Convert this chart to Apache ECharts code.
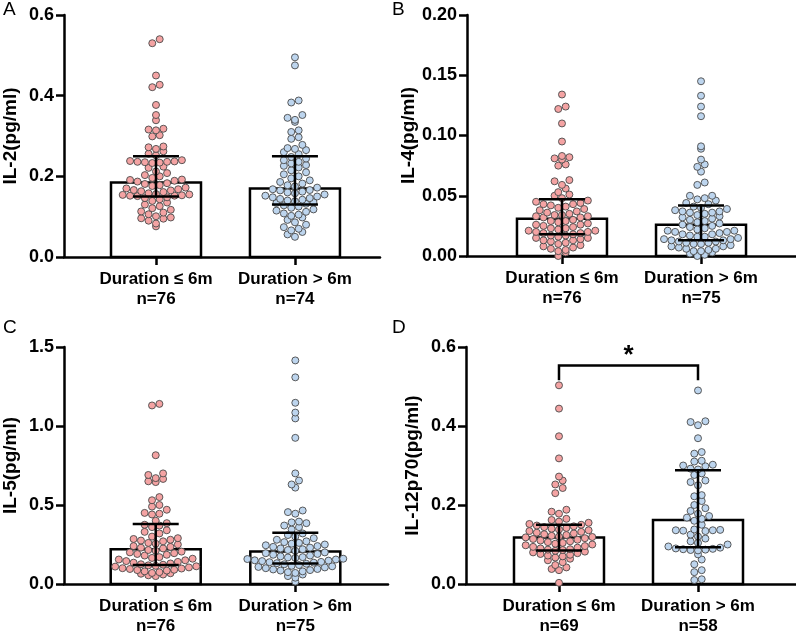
<!DOCTYPE html>
<html><head><meta charset="utf-8">
<script src="https://cdn.jsdelivr.net/npm/echarts@6/dist/echarts.min.js"></script>
<style>html,body{margin:0;padding:0;background:#fff}#c{width:796px;height:636px}</style>
</head><body><div id="c"></div>
<script>
// ---------- DATA ----------
const groupNames = ['Duration ≤ 6m', 'Duration > 6m'];
const panelLetters = ['A', 'B', 'C', 'D'];
const yTitles = ['IL-2(pg/ml)', 'IL-4(pg/ml)', 'IL-5(pg/ml)', 'IL-12p70(pg/ml)'];
const nLabels = [['n=76', 'n=74'], ['n=76', 'n=75'], ['n=76', 'n=75'], ['n=69', 'n=58']];
const yMax = [0.6, 0.2, 1.5, 0.6];
const yInterval = [0.2, 0.05, 0.5, 0.2];
const yDecimals = [1, 2, 1, 1];
// bar heights (median) and error bars (Q1, Q3)
const barValues = [[0.185, 0.170], [0.031, 0.026], [0.220, 0.205], [0.118, 0.162]];
const errLow = [[0.150, 0.130], [0.018, 0.013], [0.120, 0.130], [0.085, 0.093]];
const errHigh = [[0.250, 0.250], [0.047, 0.042], [0.380, 0.325], [0.150, 0.288]];

const il2Short = [0.540,0.530,0.450,0.427,0.421,0.377,0.352,0.339,0.318,0.316,0.314,0.302,0.299,0.274,0.272,0.268,0.262,0.256,0.252,
 0.240,0.238,0.237,0.236,0.236,0.234,0.235,0.233,0.224,0.221,0.212,0.208,0.203,0.200,0.196,0.192,0.191,0.189,0.187,
 0.183,0.181,0.178,0.176,0.172,0.170,0.168,0.166,0.165,0.163,0.161,0.158,0.156,0.155,0.154,0.153,0.152,0.152,0.151,
 0.148,0.146,0.143,0.139,0.135,0.130,0.126,0.121,0.117,0.113,0.110,0.106,0.101,0.098,0.096,0.095,0.090,0.083,0.076];
const il2Long = [0.495,0.475,0.388,0.383,0.352,0.345,0.340,0.335,0.314,0.310,0.297,0.293,0.278,0.270,0.268,0.265,0.260,0.255,
 0.248,0.244,0.240,0.236,0.232,0.228,0.226,0.222,0.215,0.210,0.205,0.200,0.195,0.190,0.186,0.182,0.178,0.175,0.172,
 0.168,0.166,0.165,0.162,0.160,0.158,0.155,0.152,0.150,0.148,0.146,0.144,0.142,0.140,0.138,0.136,0.134,0.132,
 0.128,0.125,0.122,0.118,0.115,0.112,0.108,0.105,0.102,0.098,0.092,0.086,0.080,0.074,0.070,0.066,0.062,0.056,0.050];
const il4Short = [0.134,0.124,0.122,0.110,0.095,0.083,0.082,0.081,0.080,0.076,0.075,0.063,0.062,0.059,0.056,0.053,0.051,0.050,0.048,
 0.046,0.045,0.044,0.043,0.043,0.042,0.041,0.040,0.039,0.038,0.037,0.036,0.035,0.034,0.034,0.033,0.033,0.032,0.032,
 0.030,0.029,0.029,0.028,0.027,0.026,0.026,0.025,0.024,0.023,0.023,0.022,0.021,0.021,0.020,0.020,0.019,0.019,0.018,
 0.017,0.017,0.016,0.015,0.015,0.014,0.013,0.013,0.012,0.011,0.010,0.009,0.008,0.007,0.006,0.005,0.004,0.003,0.000];
const il4Long = [0.145,0.133,0.124,0.116,0.091,0.089,0.080,0.076,0.074,0.070,0.061,0.059,0.050,0.050,0.048,0.047,0.046,0.044,0.043,
 0.041,0.040,0.039,0.038,0.037,0.037,0.036,0.036,0.035,0.034,0.033,0.032,0.031,0.030,0.029,0.028,0.027,0.026,
 0.025,0.024,0.023,0.022,0.021,0.021,0.020,0.020,0.019,0.018,0.018,0.017,0.016,0.016,0.015,0.014,0.014,0.013,0.013,
 0.012,0.012,0.011,0.011,0.010,0.010,0.009,0.008,0.008,0.007,0.006,0.006,0.005,0.004,0.004,0.003,0.002,0.001,0.000];
const il5Short = [1.140,1.130,0.815,0.700,0.690,0.670,0.665,0.650,0.645,0.550,0.530,0.500,0.490,0.470,0.450,0.445,0.440,0.400,0.385,
 0.375,0.370,0.360,0.340,0.330,0.320,0.300,0.290,0.285,0.280,0.275,0.270,0.260,0.255,0.250,0.240,0.235,0.230,0.225,
 0.215,0.210,0.205,0.200,0.195,0.190,0.185,0.180,0.170,0.165,0.160,0.155,0.150,0.145,0.140,0.135,0.130,0.125,0.122,
 0.118,0.115,0.112,0.110,0.105,0.100,0.098,0.095,0.090,0.088,0.085,0.080,0.075,0.070,0.068,0.065,0.060,0.055,0.050];
const il5Long = [1.415,1.308,1.147,1.085,1.048,0.925,0.700,0.655,0.630,0.610,0.465,0.455,0.445,0.395,0.390,0.385,0.370,0.360,0.345,
 0.320,0.310,0.300,0.290,0.280,0.270,0.265,0.260,0.255,0.250,0.245,0.240,0.235,0.230,0.225,0.220,0.215,0.210,
 0.200,0.195,0.190,0.185,0.180,0.175,0.170,0.168,0.165,0.160,0.158,0.155,0.150,0.148,0.145,0.140,0.138,0.135,0.132,
 0.128,0.125,0.120,0.115,0.112,0.108,0.105,0.100,0.095,0.092,0.088,0.085,0.080,0.075,0.070,0.060,0.050,0.040,0.015];
const il12Short = [0.503,0.444,0.374,0.318,0.272,0.262,0.252,0.243,0.230,0.188,0.183,0.178,0.165,0.162,0.158,0.155,0.152,
 0.150,0.148,0.146,0.144,0.142,0.140,0.138,0.136,0.134,0.132,0.130,0.128,0.126,0.124,0.122,0.120,0.119,
 0.118,
 0.116,0.114,0.112,0.110,0.108,0.106,0.104,0.102,0.100,0.098,0.096,0.094,0.092,0.090,0.088,0.087,0.086,
 0.084,0.082,0.080,0.078,0.076,0.074,0.072,0.070,0.067,0.064,0.060,0.055,0.048,0.042,0.038,0.035,0.003];
const il12Long = [0.490,0.412,0.410,0.402,0.369,0.334,0.330,0.312,0.310,0.302,0.300,0.298,0.292,0.290,
 0.280,0.276,0.262,0.258,0.250,0.225,0.222,0.210,0.200,0.192,0.185,0.178,0.172,0.168,0.165,
 0.160,0.150,0.138,0.137,0.136,0.136,0.135,0.134,0.125,0.120,0.115,0.108,0.104,0.100,0.095,
 0.092,0.090,0.089,0.088,0.087,0.086,0.085,0.075,0.062,0.050,0.035,0.030,0.012,0.010];
const pointSets = [[il2Short, il2Long], [il4Short, il4Long], [il5Short, il5Long], [il12Short, il12Long]];
// significance annotation for panel D: bracket between the two groups
const sigPanel = 3;
const sigBracket = [0, 1, 0.553, 0.516]; // x from, x to, top value, leg-bottom value
const sigStarY = 0.578;
const sigText = '*';

// ---------- LAYOUT ----------
const grids = [
  {left: 64, top: 15, width: 316, height: 242},
  {left: 467, top: 15, width: 329, height: 241},
  {left: 63, top: 347, width: 325, height: 242},
  {left: 466, top: 347, width: 330, height: 242}
];
const xRange = [[-0.662, 1.612], [-0.683, 1.683], [-0.657, 1.664], [-0.669, 1.705]];
const letterPos = [[3, 0], [392, 0], [3, 318], [392, 318]];
const colors = ['#f4a3a3', '#bdd5ee'];
const DOT = 7.4;
const FONT = 'Liberation Sans, Arial, sans-serif';

function swarm(values, cat, pxY, pxX) {
  const bins = {};
  values.forEach(v => {
    const b = Math.round(v * pxY / DOT);
    (bins[b] = bins[b] || []).push(v);
  });
  const out = [];
  Object.keys(bins).forEach(k => {
    const arr = bins[k].slice().sort((a, b) => a - b);
    const n = arr.length;
    const pos = [];
    for (let j = 0; j < n; j++) pos.push(j - (n - 1) / 2);
    pos.sort((a, b) => Math.abs(a) - Math.abs(b) || a - b);
    arr.forEach((v, i) => out.push([cat + pos[i] * DOT / pxX, v]));
  });
  return out;
}

const option = {
  animation: false,
  backgroundColor: '#fff',
  grid: [], xAxis: [], yAxis: [], series: [], graphic: []
};
const axisColor = '#000';
for (let p = 0; p < 4; p++) {
  const g = grids[p];
  option.grid.push(Object.assign({containLabel: false}, g));
  const pxY = g.height / yMax[p];
  const pxX = g.width / (xRange[p][1] - xRange[p][0]);
  option.xAxis.push({
    type: 'value', gridIndex: p, min: xRange[p][0], max: xRange[p][1],
    axisLine: {show: true, onZero: false, lineStyle: {color: axisColor, width: 2.5}},
    axisTick: {show: true, customValues: [0, 1], length: 8, lineStyle: {color: axisColor, width: 2.5}},
    axisLabel: {show: true, customValues: [0, 1], margin: 12, color: '#000', fontWeight: 'bold',
      fontSize: 17, lineHeight: 20, fontFamily: FONT,
      formatter: v => groupNames[Math.round(v)] + '\n' + nLabels[p][Math.round(v)]},
    splitLine: {show: false}
  });
  option.yAxis.push({
    type: 'value', gridIndex: p, min: 0, max: yMax[p], interval: yInterval[p],
    name: yTitles[p], nameLocation: 'middle', nameGap: 44,
    nameTextStyle: {color: '#000', fontWeight: 'bold', fontSize: 19, fontFamily: FONT},
    axisLine: {show: true, onZero: false, lineStyle: {color: axisColor, width: 2.5}},
    axisTick: {show: true, length: 8, lineStyle: {color: axisColor, width: 2.5}},
    axisLabel: {margin: 10, color: '#000', fontWeight: 'bold', fontSize: 18,
      fontFamily: FONT, formatter: v => v.toFixed(yDecimals[p])},
    splitLine: {show: false}
  });
  // bars
  option.series.push({
    type: 'custom', xAxisIndex: p, yAxisIndex: p, z: 1,
    data: barValues[p].map((v, i) => [i, v]),
    renderItem: (params, api) => {
      const b = api.coord([api.value(0), 0]);
      const t = api.coord([api.value(0), api.value(1)]);
      return {type: 'rect', shape: {x: b[0] - 45, y: t[1], width: 90, height: b[1] - t[1]},
        style: {fill: '#fff', stroke: '#000', lineWidth: 2.5}};
    }
  });
  // dots
  for (let gi = 0; gi < 2; gi++) {
    option.series.push({
      type: 'scatter', xAxisIndex: p, yAxisIndex: p, z: 2,
      symbol: 'circle', symbolSize: 7,
      itemStyle: {color: colors[gi], borderColor: '#4a4a4a', borderWidth: 0.9, opacity: 1},
      data: swarm(pointSets[p][gi], gi, pxY, pxX)
    });
  }
  // error bars
  option.series.push({
    type: 'custom', xAxisIndex: p, yAxisIndex: p, z: 3,
    data: errLow[p].map((v, i) => [i, v, errHigh[p][i]]),
    renderItem: (params, api) => {
      const lo = api.coord([api.value(0), api.value(1)]);
      const hi = api.coord([api.value(0), api.value(2)]);
      const st = {stroke: '#000', lineWidth: 2.5};
      return {type: 'group', children: [
        {type: 'line', shape: {x1: lo[0], y1: lo[1], x2: hi[0], y2: hi[1]}, style: st},
        {type: 'line', shape: {x1: lo[0] - 23, y1: lo[1], x2: lo[0] + 23, y2: lo[1]}, style: st},
        {type: 'line', shape: {x1: hi[0] - 23, y1: hi[1], x2: hi[0] + 23, y2: hi[1]}, style: st}
      ]};
    }
  });
  option.graphic.push({type: 'text', left: letterPos[p][0], top: letterPos[p][1],
    style: {text: panelLetters[p], fontSize: 19, fill: '#000', fontFamily: FONT}});
}
// significance bracket
option.series.push({
  type: 'custom', xAxisIndex: sigPanel, yAxisIndex: sigPanel, z: 4,
  data: [sigBracket.concat([sigStarY])],
  renderItem: (params, api) => {
    const a = api.coord([api.value(0), api.value(3)]);
    const b = api.coord([api.value(0), api.value(2)]);
    const c = api.coord([api.value(1), api.value(2)]);
    const d = api.coord([api.value(1), api.value(3)]);
    const s = api.coord([(api.value(0) + api.value(1)) / 2, api.value(4)]);
    return {type: 'group', children: [
      {type: 'polyline', shape: {points: [a, b, c, d]}, style: {stroke: '#000', lineWidth: 2.5, fill: null}},
      {type: 'text', x: s[0], y: s[1], style: {text: sigText, fontSize: 26, fontWeight: 'bold', fill: '#000',
        align: 'center', verticalAlign: 'middle', fontFamily: FONT}}
    ]};
  }
});
const chart = echarts.init(document.getElementById('c'), null, {renderer: 'canvas'});
chart.setOption(option);
</script></body></html>
